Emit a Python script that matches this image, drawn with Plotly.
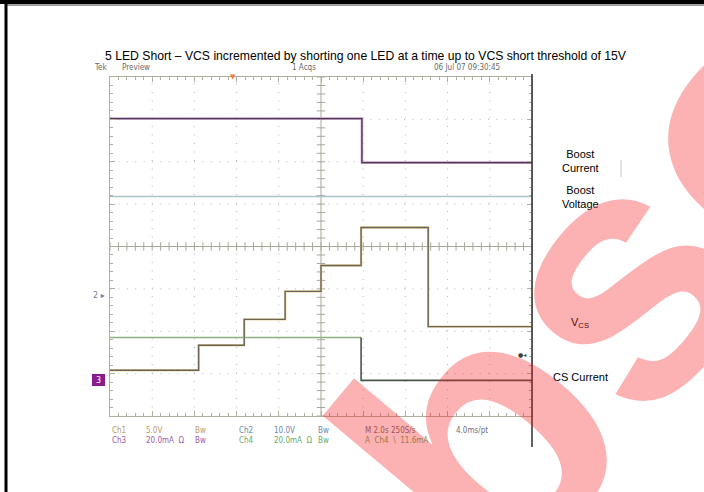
import numpy as np
import plotly.graph_objects as go

W, H = 704, 492

# scope traces, time in divisions (0..10), level in divisions (-4..4)
boost_i_t = [0, 5.97, 5.97, 10]
boost_i_y = [3.02, 3.02, 1.98, 1.98]

boost_v_t = [0, 10]
boost_v_y = [1.18, 1.18]

vcs_t = [0, 2.1, 2.1, 3.18, 3.18, 4.15, 4.15, 5.0, 5.0, 5.95, 5.95, 7.54, 7.54, 10]
vcs_y = [-2.92, -2.92, -2.33, -2.33, -1.72, -1.72, -1.06, -1.06, -0.45, -0.45, 0.45, 0.45, -1.89, -1.89]

cs_t = [0, 5.95]
cs_y = [-2.15, -2.15]
cs_low_t = [5.95, 5.95, 10]
cs_low_y = [-2.15, -3.16, -3.16]

labels = ["Boost<br>Current", "Boost<br>Voltage", "V<sub>CS</sub>", "CS Current"]
label_y = [161, 197, 323, 377]

header = [("Tek", 92), ("Preview", 120), ("1 Acqs", 290), ("06 Jul 07 09:30:45", 432)]
row1 = [("Ch1", 110, "#b89a68"), ("5.0V", 144, "#b89a68"), ("Bw", 193, "#b89a68"),
        ("Ch2", 237, "#6b86a8"), ("10.0V", 272, "#6b86a8"), ("Bw", 316, "#6b86a8"),
        ("M 2.0s 250S/s", 363, "#707078"), ("4.0ms/pt", 454, "#707078")]
row2 = [("Ch3", 110, "#9a5aa8"), ("20.0mA  Ω", 144, "#9a5aa8"), ("Bw", 193, "#9a5aa8"),
        ("Ch4", 237, "#6aa86a"), ("20.0mA  Ω", 272, "#6aa86a"), ("Bw", 316, "#6aa86a"),
        ("A  Ch4  \\  11.6mA", 363, "#6aa86a")]


def px(x):
    return x / W


def py(y):
    return 1 - y / H


def note(x, y, text, size, color, family="Liberation Sans, Arial", xanchor="center", angle=0):
    return dict(x=px(x), y=py(y), xref="paper", yref="paper", showarrow=False,
                xanchor=xanchor, yanchor="middle", text=text, textangle=angle,
                font=dict(family=family, size=size, color=color))


fig = go.Figure()

# center crosshair ticks
fig.add_trace(go.Scatter(x=np.arange(0, 10.01, 0.2), y=np.zeros(51), mode="markers",
                         marker=dict(symbol="line-ns", size=6, line=dict(width=1, color="#a8a898")),
                         hoverinfo="skip"))
fig.add_trace(go.Scatter(x=np.full(41, 5.0), y=np.arange(-4, 4.01, 0.2), mode="markers",
                         marker=dict(symbol="line-ew", size=6, line=dict(width=1, color="#a8a898")),
                         hoverinfo="skip"))

fig.add_trace(go.Scatter(x=boost_v_t, y=boost_v_y, mode="lines", line=dict(color="#a9c3cc", width=1.6)))
fig.add_trace(go.Scatter(x=boost_i_t, y=boost_i_y, mode="lines", line=dict(color="#c9a0d0", width=2.6)))
fig.add_trace(go.Scatter(x=boost_i_t, y=boost_i_y, mode="lines", line=dict(color="#4c3a52", width=1.3)))
fig.add_trace(go.Scatter(x=cs_t, y=cs_y, mode="lines", line=dict(color="#8cb07c", width=1.5)))
fig.add_trace(go.Scatter(x=cs_low_t, y=cs_low_y, mode="lines", line=dict(color="#4a5448", width=1.6)))
fig.add_trace(go.Scatter(x=vcs_t, y=vcs_y, mode="lines", line=dict(color="#e6d4a4", width=2.4)))
fig.add_trace(go.Scatter(x=vcs_t, y=vcs_y, mode="lines", line=dict(color="#6c6454", width=1.4)))

shapes = []
for gx in range(1, 10):
    if gx != 5:
        shapes.append(dict(type="line", xref="x", yref="y", x0=gx, x1=gx, y0=-4, y1=4, layer="below",
                           line=dict(color="#b8b8b8", width=1, dash="1px,7.5px")))
for gy in range(-3, 4):
    if gy != 0:
        shapes.append(dict(type="line", xref="x", yref="y", x0=0, x1=10, y0=gy, y1=gy, layer="below",
                           line=dict(color="#b8b8b8", width=1, dash="1px,7.4px")))
shapes.append(dict(type="line", xref="x", yref="y", x0=5, x1=5, y0=-4, y1=4, layer="below",
                   line=dict(color="#a8a898", width=1)))
shapes.append(dict(type="line", xref="x", yref="y", x0=0, x1=10, y0=0, y1=0, layer="below",
                   line=dict(color="#a8a898", width=1)))
# scope right edge
shapes.append(dict(type="line", xref="paper", yref="paper", x0=px(532), x1=px(532), y0=py(74), y1=py(447),
                   line=dict(color="#3a3a3a", width=1.6)))
# page frame
shapes.append(dict(type="rect", xref="paper", yref="paper", x0=0, x1=1, y0=py(4), y1=1,
                   line=dict(width=0), fillcolor="black"))
shapes.append(dict(type="rect", xref="paper", yref="paper", x0=px(6), x1=1, y0=py(6), y1=py(4),
                   line=dict(width=0), fillcolor="#a0a0a0"))
shapes.append(dict(type="rect", xref="paper", yref="paper", x0=px(4.5), x1=px(7.5), y0=0, y1=1,
                   line=dict(width=0), fillcolor="black"))
shapes.append(dict(type="line", xref="paper", yref="paper", x0=px(621), x1=px(621), y0=py(160), y1=py(177),
                   line=dict(color="#c8c8c8", width=1)))
# ch3 ground marker box
shapes.append(dict(type="rect", xref="paper", yref="paper", x0=px(92), x1=px(105), y0=py(386), y1=py(374),
                   line=dict(width=0), fillcolor="#8a1c8c"))

scope_font = "DejaVu Sans Condensed, Liberation Sans"
ann = [note(366, 56, "5 LED Short – VCS incremented by shorting one LED at a time up to VCS short threshold of 15V",
            12.2, "black")]
for txt, x in header:
    ann.append(note(x, 67, txt, 8, "#6a6a6a", scope_font, "left"))
for txt, x, c in row1:
    ann.append(note(x, 430, txt, 8, c, scope_font, "left"))
for txt, x, c in row2:
    ann.append(note(x, 440, txt, 8, c, scope_font, "left"))
for txt, y in zip(labels, label_y):
    ann.append(note(580, y, txt, 11, "black"))
ann.append(note(99, 295, "2 ▸", 8, "#7080a0", "DejaVu Sans"))
ann.append(note(98.5, 380, "3", 8, "white", "DejaVu Sans"))
ann.append(note(522, 354, "●◂", 6, "#404040", "DejaVu Sans"))
ann.append(note(233, 77, "▼", 7, "#f08040", "DejaVu Sans"))
# watermark
ann.append(note(720, 151, "<b>Obsolete</b>", 355, "rgba(245,30,30,0.34)", angle=-50))

axis_common = dict(showgrid=False, zeroline=False, showticklabels=False, showline=True,
                   linecolor="#b0b0a0", linewidth=1, mirror="ticks", ticks="inside", ticklen=5,
                   tickcolor="#b0b0a0", dtick=1, fixedrange=True,
                   minor=dict(dtick=0.2, ticks="inside", ticklen=3, tickcolor="#b0b0a0"))

fig.update_layout(
    width=W, height=H,
    margin=dict(l=0, r=0, t=0, b=0),
    paper_bgcolor="white", plot_bgcolor="white",
    showlegend=False,
    xaxis=dict(domain=[px(110), px(532)], range=[0, 10], tick0=0, **axis_common),
    yaxis=dict(domain=[py(416), py(77)], range=[-4, 4], tick0=0, **axis_common),
    shapes=shapes,
    annotations=ann,
)

fig.write_html("out.html", config={"displayModeBar": False},
               post_script="document.body.style.margin='0';")
